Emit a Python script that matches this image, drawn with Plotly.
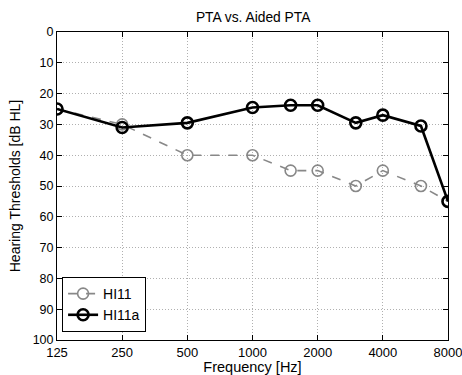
import plotly.graph_objects as go

freqs = [125, 250, 500, 1000, 1500, 2000, 3000, 4000, 6000, 8000]
hi11 = [25, 30, 40, 40, 45, 45, 50, 45, 50, 55]
hi11a = [25, 31, 29.5, 24.5, 23.8, 23.8, 29.5, 27, 30.5, 55]
xticks = [125, 250, 500, 1000, 2000, 4000, 8000]
yticks = [0, 10, 20, 30, 40, 50, 60, 70, 80, 90, 100]

fig = go.Figure()
fig.add_trace(go.Scatter(
    x=freqs, y=hi11, name="HI11", mode="lines+markers",
    line=dict(color="#888888", width=1.6, dash="dash"),
    marker=dict(symbol="circle-open", size=11, color="#888888", line=dict(width=1.6)),
))
fig.add_trace(go.Scatter(
    x=freqs, y=hi11a, name="HI11a", mode="lines+markers",
    line=dict(color="black", width=2.6),
    marker=dict(symbol="circle-open", size=11, color="black", line=dict(width=2.6)),
))

font = "Liberation Sans, Arial, Helvetica, sans-serif"
fig.update_layout(
    template="none",
    width=462, height=375,
    margin=dict(l=57, r=14, t=32, b=35, autoexpand=False),
    paper_bgcolor="white", plot_bgcolor="white",
    font=dict(family=font, size=13, color="black"),
    title=dict(text="PTA vs. Aided PTA", x=0.548, xanchor="center", y=0.953, yanchor="middle",
               font=dict(size=13.8)),
    showlegend=True,
    legend=dict(x=0.013, y=0.026, xanchor="left", yanchor="bottom",
                bordercolor="black", borderwidth=1, bgcolor="white",
                font=dict(size=14), tracegroupgap=0, itemwidth=30),
)
fig.update_xaxes(
    type="log", range=[2.0969, 3.9031], automargin=False,
    tickvals=xticks, ticktext=[str(t) for t in xticks],
    showgrid=True, gridcolor="#b0b0b0", griddash="1px,2px", gridwidth=1,
    showline=True, linecolor="black", linewidth=1, mirror="ticks",
    ticks="inside", ticklen=5, tickcolor="black",
    title=dict(text="Frequency [Hz]", standoff=3, font=dict(size=14.5)),
    tickfont=dict(size=13), zeroline=False, ticklabeloverflow="allow",
)
fig.update_yaxes(
    range=[100, 0], tickvals=yticks, automargin=False,
    showgrid=True, gridcolor="#b0b0b0", griddash="1px,2px", gridwidth=1,
    showline=True, linecolor="black", linewidth=1, mirror="ticks",
    ticks="inside", ticklen=5, tickcolor="black",
    title=dict(text="Hearing Thresholds [dB HL]", standoff=8, font=dict(size=14)),
    tickfont=dict(size=12.5), zeroline=False, ticklabeloverflow="allow",
)
fig.write_html("out.html")
